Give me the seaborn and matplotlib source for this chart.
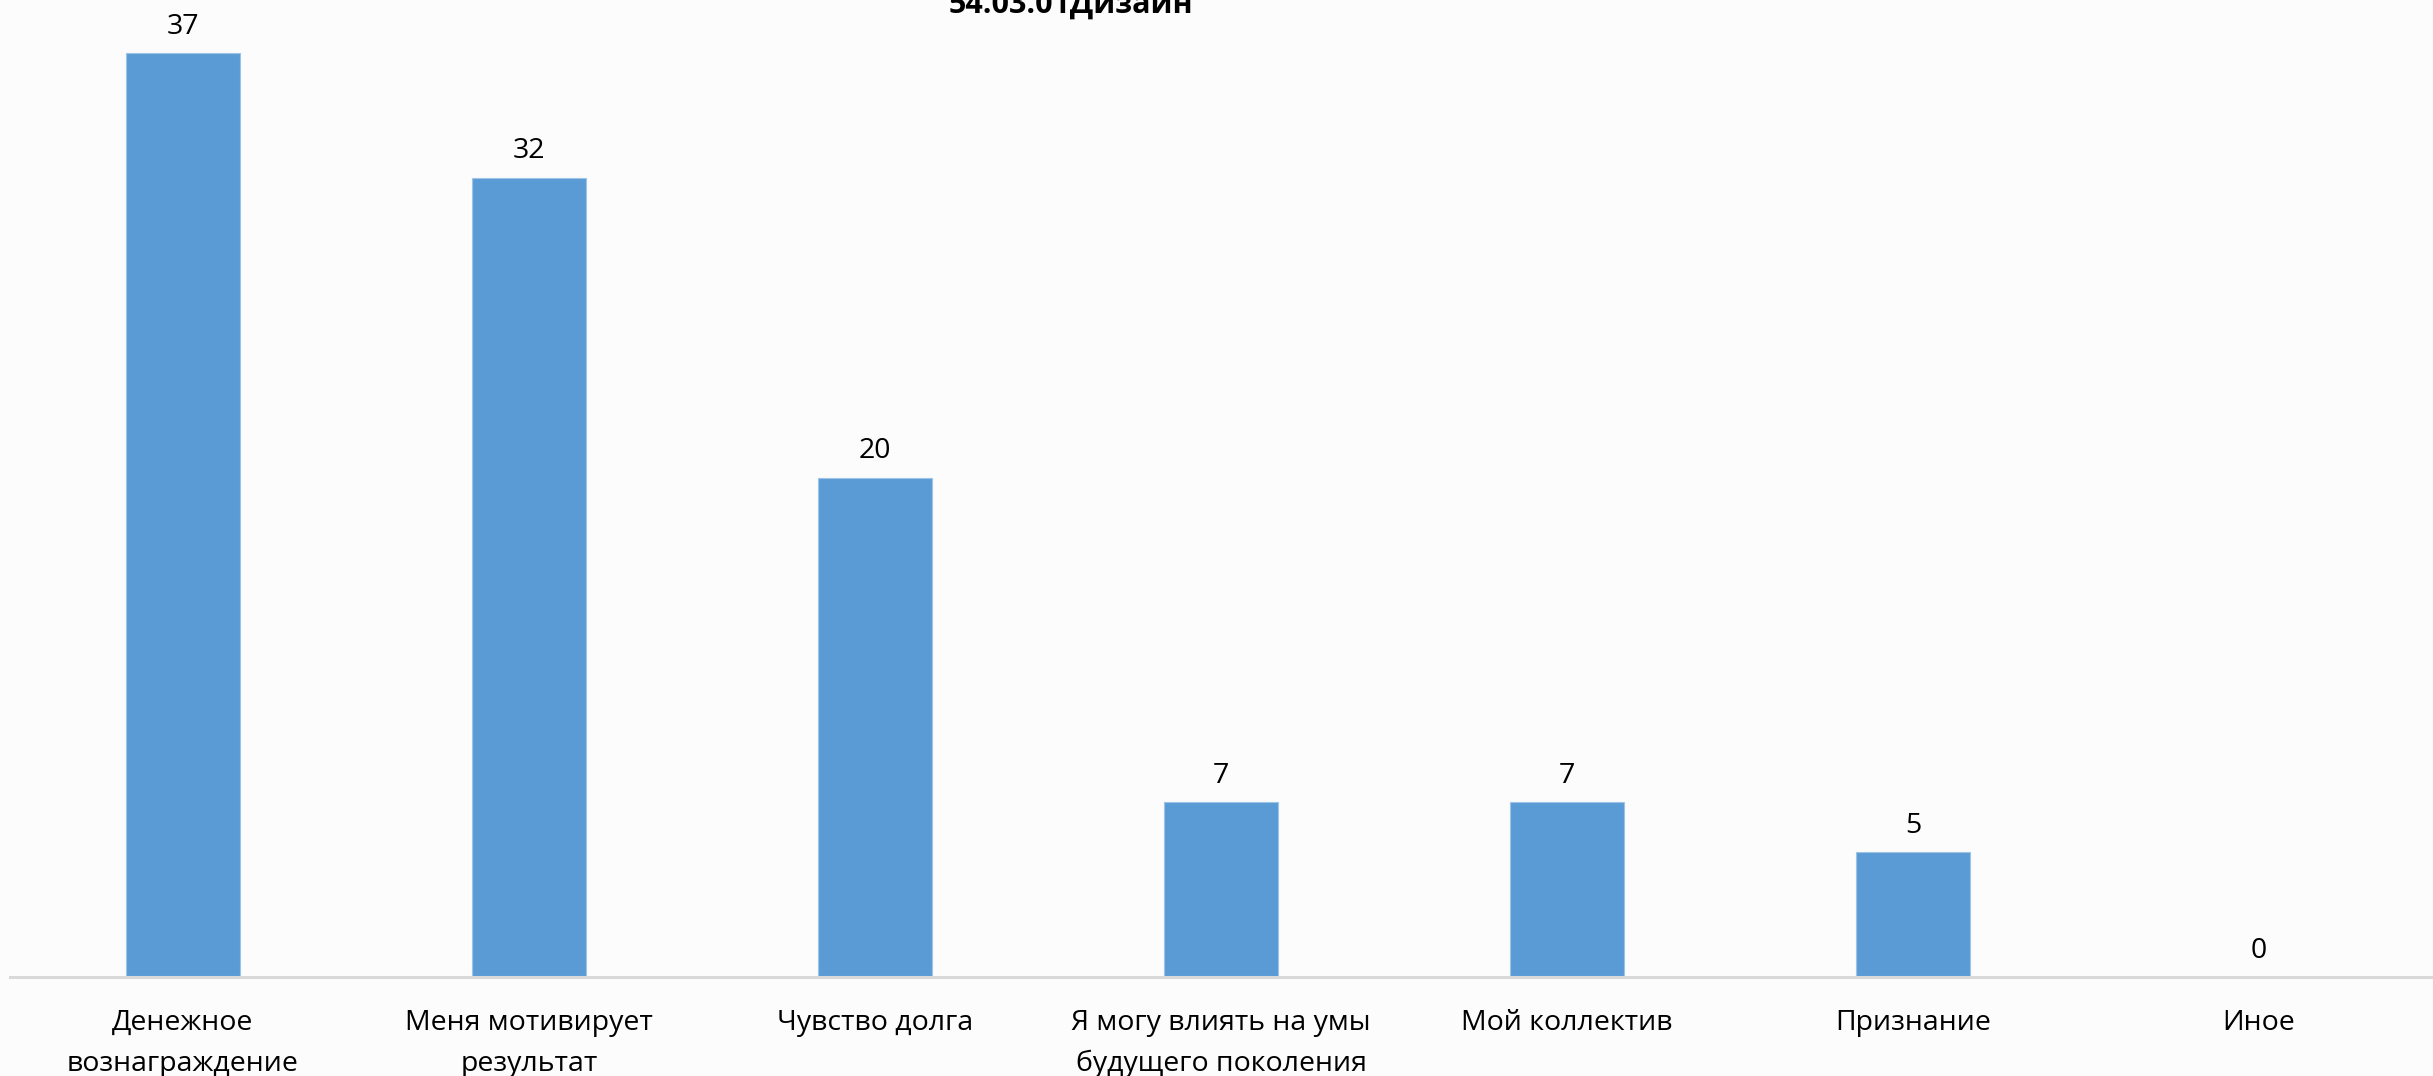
import matplotlib
matplotlib.use("Agg")
import matplotlib.pyplot as plt
import seaborn as sns
import pandas as pd

categories = ["Денежное\nвознаграждение", "Меня мотивирует\nрезультат", "Чувство долга",
              "Я могу влиять на умы\nбудущего поколения", "Мой коллектив", "Признание", "Иное"]
values = [37, 32, 20, 7, 7, 5, 0]
title = "54.03.01Дизайн"

sns.set_theme(style="white")
plt.rcParams['font.family'] = ['Open Sans', 'DejaVu Sans']

W, H = 2433, 1076
dpi = 100
fig = plt.figure(figsize=(W / dpi, H / dpi), dpi=dpi, facecolor="#FCFCFC")
ax = fig.add_axes([10 / W, (H - 977) / H, (2432 - 10) / W, 977 / H])
ax.set_facecolor("#FCFCFC")

df = pd.DataFrame({"cat": categories, "val": values})
sns.barplot(data=df, x="cat", y="val", color="#5B9BD5", width=0.33, ax=ax,
            saturation=1, edgecolor="#9DC3E6", linewidth=0.8)

ax.set_xlim(-0.5, len(categories) - 0.5)
ax.set_ylim(0, 977 / 24.97)
for s in ["top", "right", "left"]:
    ax.spines[s].set_visible(False)
ax.spines["bottom"].set_color("#D9D9D9")
ax.spines["bottom"].set_linewidth(2.2)
ax.set_yticks([])
ax.set_xlabel("")
ax.set_ylabel("")
ax.tick_params(axis="x", length=0, pad=23, labelsize=20.5, colors="black")
for lbl in ax.get_xticklabels():
    lbl.set_linespacing(1.6)

for i, v in enumerate(values):
    ax.annotate(str(v), (i, v), xytext=(0, 9), textcoords="offset points",
                ha="center", va="bottom", fontsize=20.5, color="black")

fig.text(1071 / W, 1 - 13 / H, title, ha="center", va="baseline",
         fontsize=22, fontweight="bold", color="black")

fig.savefig("out.png", dpi=dpi, facecolor=fig.get_facecolor())
